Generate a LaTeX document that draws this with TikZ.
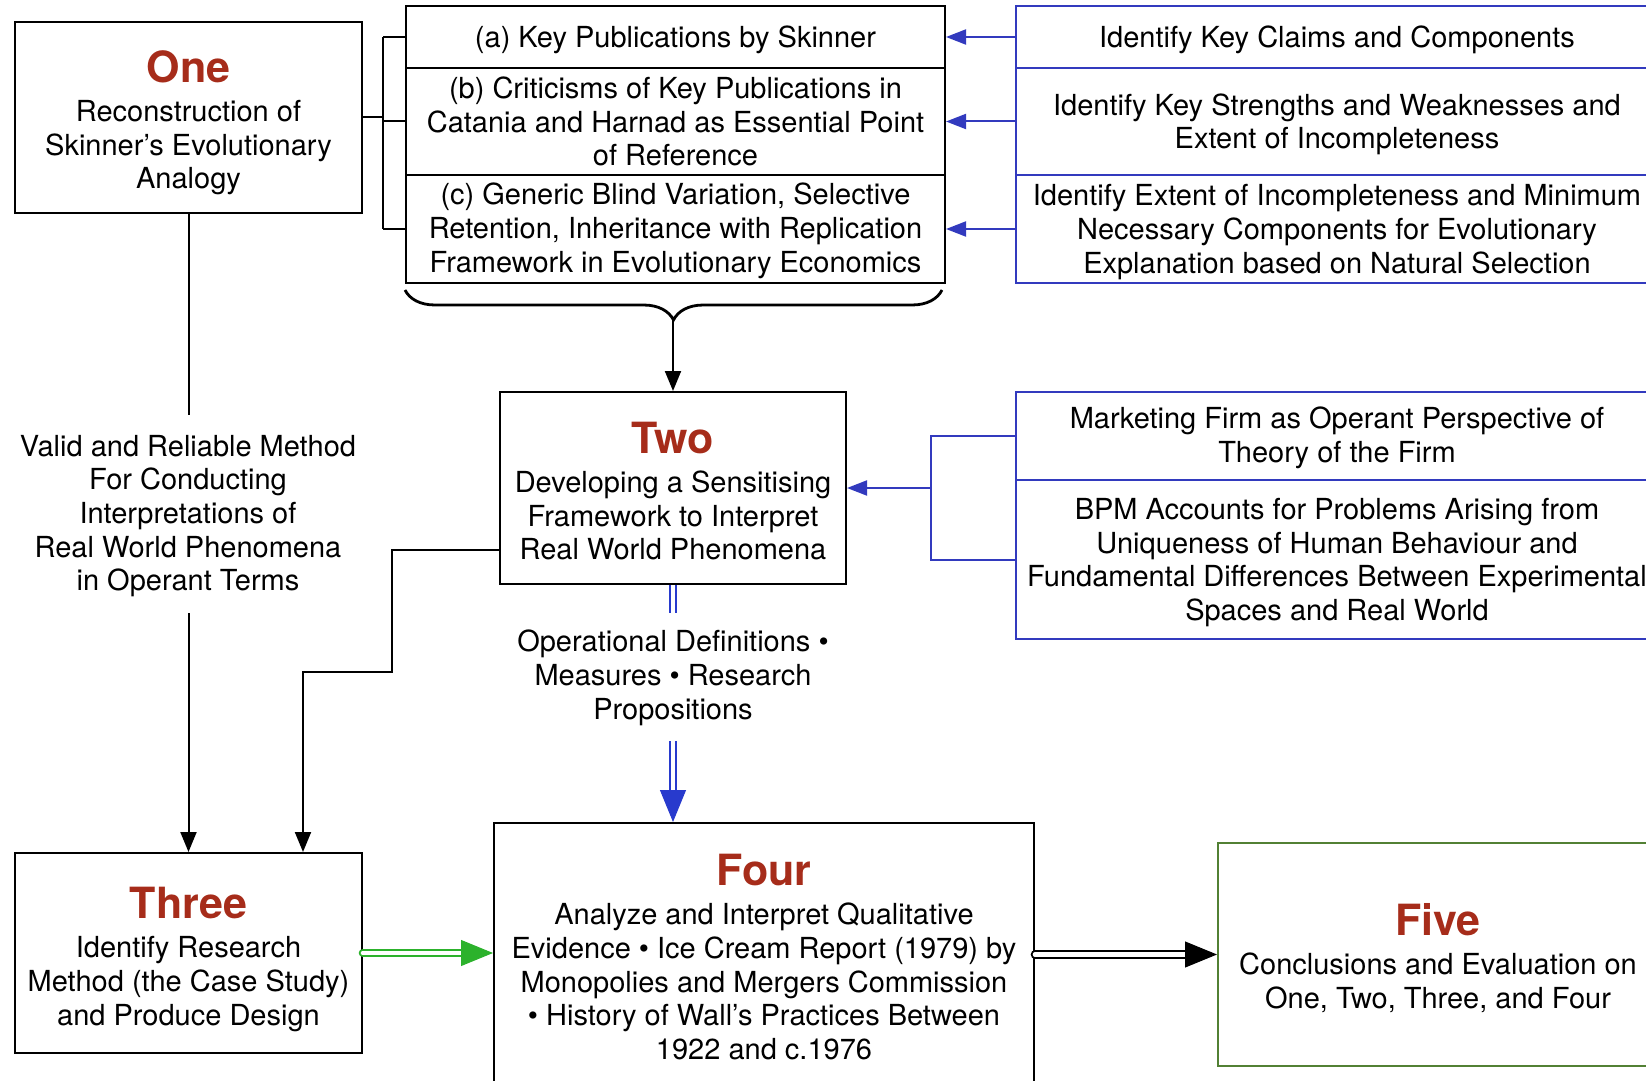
\documentclass[tikz,border=0pt]{standalone}
\usepackage{fontspec}
\setmainfont{TeX Gyre Heros}
\usetikzlibrary{arrows.meta,decorations.pathreplacing,calc}
\definecolor{titlered}{RGB}{166,44,26}
\definecolor{lineblue}{RGB}{50,58,190}
\definecolor{arrowblue}{RGB}{40,58,205}
\definecolor{arrowgreen}{RGB}{44,178,44}
\definecolor{boxgreen}{RGB}{82,128,52}
\newcommand{\bodyfont}{\fontsize{14.5pt}{16.8pt}\selectfont}
% first-line strut: sets how far the text block sits down in its box
\newcommand{\lift}[1]{\rule{0pt}{#1}}
\newcommand{\headline}[2]{{\lift{#1}\fontsize{21.5pt}{24pt}\selectfont\bfseries\color{titlered}#2}\\[2.7pt]}
\begin{document}
\begin{tikzpicture}[x=0.5pt,y=-0.5pt,
  box/.style={draw, line width=1pt, inner sep=0pt, align=center, font=\bodyfont},
  bluebox/.style={box, draw=lineblue},
  plain/.style={align=center, font=\bodyfont, inner xsep=0pt},
  conn/.style={line width=1pt},
  tipsm/.style={-{Triangle[length=10pt,width=8pt]}},
  bluearr/.style={conn, lineblue, -{Triangle[length=10pt,width=7.5pt]}},
  dbl/.style={double=white, double distance=2.3pt, line width=1pt},
  bigtip/.style={line width=0.5pt, -{Triangle[length=16pt,width=13pt]}},
]
\useasboundingbox (0,0) rectangle (1646,1081);
\clip (0,0) rectangle (1646,1081);

% ---- stage boxes
\node[box, minimum width=173.5pt, minimum height=95.5pt] (one) at (188.5,117.5)
  {\headline{21.4pt}{One}Reconstruction of\\Skinner’s Evolutionary\\Analogy};
\node[box, minimum width=173pt, minimum height=96pt] (two) at (673,488)
  {\headline{18.9pt}{Two}Developing a Sensitising\\Framework to Interpret\\Real World Phenomena};
\node[box, minimum width=173.5pt, minimum height=100pt] (three) at (188.5,953)
  {\headline{22.2pt}{Three}Identify Research\\Method (the Case Study)\\and Produce Design};
\node[box, minimum width=270pt, minimum height=133.5pt] (four) at (764,956.5)
  {\headline{16.4pt}{Four}Analyze and Interpret Qualitative\\Evidence • Ice Cream Report (1979) by\\Monopolies and Mergers Commission\\• History of Wall’s Practices Between\\1922 and c.1976};
\node[box, draw=boxgreen, minimum width=220pt, minimum height=111.5pt] (five) at (1438,954.5)
  {\headline{19.9pt}{Five}Conclusions and Evaluation on\\One, Two, Three, and Four};

% ---- sources of stage one
\node[box, minimum width=269.5pt, minimum height=31pt] (pa) at (675.5,37)
  {\lift{13.6pt}(a) Key Publications by Skinner};
\node[box, minimum width=269.5pt, minimum height=53.5pt] (pb) at (675.5,121.5)
  {(b) Criticisms of Key Publications in\\Catania and Harnad as Essential Point\\of Reference};
\node[box, minimum width=269.5pt, minimum height=54pt] (pc) at (675.5,229)
  {\lift{12.6pt}(c) Generic Blind Variation, Selective\\Retention, Inheritance with Replication\\Framework in Evolutionary Economics};

% ---- aims (blue)
\node[bluebox, minimum width=321pt, minimum height=31pt] (ra) at (1337,37)
  {\lift{13.6pt}Identify Key Claims and Components};
\node[bluebox, minimum width=321pt, minimum height=53.5pt] (rb) at (1337,121.5)
  {\lift{13.6pt}Identify Key Strengths and Weaknesses and\\Extent of Incompleteness};
\node[bluebox, minimum width=321pt, minimum height=54pt] (rc) at (1337,229)
  {\lift{13.6pt}Identify Extent of Incompleteness and Minimum\\Necessary Components for Evolutionary\\Explanation based on Natural Selection};
\node[bluebox, minimum width=321pt, minimum height=44pt] (ma) at (1337,436)
  {\lift{12.6pt}Marketing Firm as Operant Perspective of\\Theory of the Firm};
\node[bluebox, minimum width=321pt, minimum height=79.5pt] (mb) at (1337,559.5)
  {\lift{13.6pt}BPM Accounts for Problems Arising from\\Uniqueness of Human Behaviour and\\Fundamental Differences Between Experimental\\Spaces and Real World};

% ---- connector labels
\node[plain, inner ysep=8pt] (valid) at (188,514)
  {\lift{12.6pt}Valid and Reliable Method\\For Conducting\\Interpretations of\\Real World Phenomena\\in Operant Terms};
\node[plain, inner ysep=7.5pt] (ops) at (673,677)
  {\lift{11.6pt}Operational Definitions •\\Measures • Research\\Propositions};

% ---- fork from One to (a)-(c)
\coordinate (fork) at (383,0);
\draw[conn] (one.east) -- (one.east -| fork);
\draw[conn] (pa.west -| fork) -- (pc.west -| fork);
\foreach \r in {pa,pb,pc} \draw[conn] (\r.west -| fork) -- (\r.west);

% ---- blue aims into (a)-(c)
\draw[bluearr] (ra.west) -- (pa.east);
\draw[bluearr] (rb.west) -- (pb.east);
\draw[bluearr] (rc.west) -- (pc.east);

% ---- brace under (a)-(c) into Two
\draw[line width=1.4pt, decorate, decoration={brace, mirror, amplitude=15pt}]
  ([yshift=-3pt]pc.south west) -- ([yshift=-3pt,xshift=-2pt]pc.south east);
\coordinate (bracetip) at (673,320);
\draw[conn, tipsm] (bracetip) -- (two.north);

% ---- blue inputs into Two
\coordinate (bfork) at (931,0);
\draw[conn, lineblue] (ma.west) -- (ma.west -| bfork) -- (mb.west -| bfork) -- (mb.west);
\draw[bluearr] (two.east -| bfork) -- (two.east);

% ---- One to Three through the method label
\draw[conn] (one.south) -- (one.south |- valid.north);
\draw[conn, tipsm] (one.south |- valid.south) -- (three.north);

% ---- Two to Three
\coordinate (stepA) at (392,672);
\coordinate (stepB) at (303,0);
\draw[conn, tipsm] ([yshift=-31pt]two.west) -| (stepA) -| (three.north -| stepB);

% ---- Two to Four (blue double)
\draw[dbl, draw=arrowblue] (two.south) -- (ops.north);
\coordinate (bt) at (ops.south |- four.north);
\draw[dbl, draw=arrowblue, shorten >=14pt] (ops.south) -- (bt);
\draw[bigtip, arrowblue] ([yshift=16pt]bt) -- (bt);

% ---- Three to Four (green double)
\coordinate (gt) at (three.east -| four.west);
\draw[dbl, draw=arrowgreen, line cap=round, shorten >=14pt] (three.east) -- (gt);
\draw[bigtip, arrowgreen] ([xshift=-16pt]gt) -- (gt);

% ---- Four to Five (black double)
\coordinate (kt) at (five.west);
\draw[dbl, draw=black, line cap=round, shorten >=14pt] (five.west -| four.east) -- (kt);
\draw[bigtip, black] ([xshift=-16pt]kt) -- (kt);
\end{tikzpicture}
\end{document}
